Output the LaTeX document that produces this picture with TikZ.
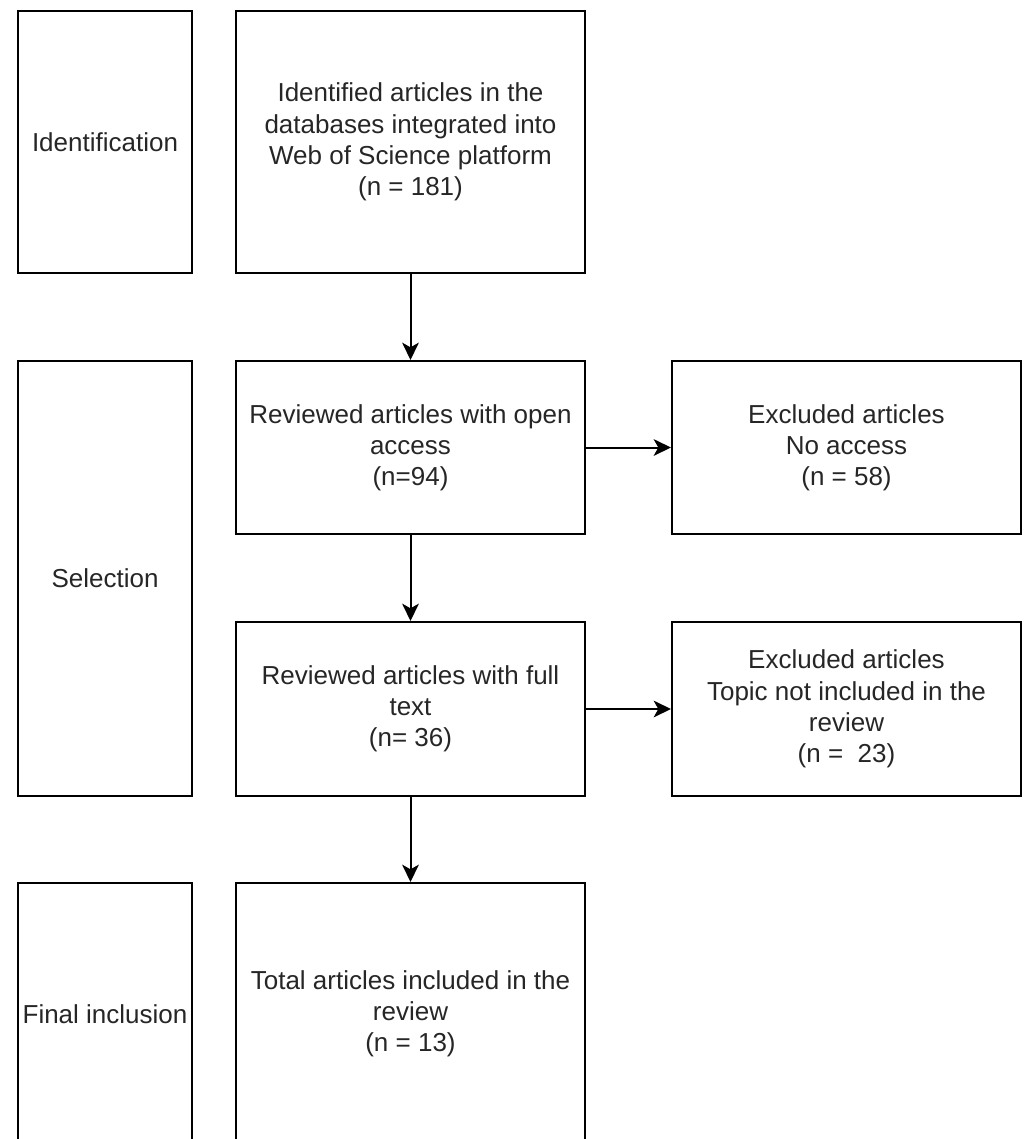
\documentclass[tikz,border=0pt]{standalone}
\usepackage{fontspec}
\setmainfont{Liberation Sans}
\usetikzlibrary{arrows.meta}
\begin{document}
\begin{tikzpicture}[
            x=0.75pt, y=-0.75pt,
            stage/.style={draw, line width=1.5pt, anchor=north west, inner sep=2pt, align=center,
                text=black!85, font=\fontsize{19.5}{23.4}\selectfont},
            narrow/.style={stage, minimum width=130.5pt},
            wide/.style={stage, minimum width=261.75pt},
            flow/.style={-{Stealth[length=13pt,width=12.5pt,inset=3.5pt]}, line width=1.5pt}
        ]
        \clip (0,0) rectangle (1024,1139);
        \node[narrow, minimum height=196.5pt] (ident) at (17,10) {Identification};
        \node[wide, minimum height=196.5pt] (idart) at (235,10)
            {Identified articles in the\\databases integrated into\\Web of Science platform\\(n = 181)};
        \node[narrow, minimum height=326.25pt] (sel) at (17,360) {Selection};
        \node[wide, minimum height=129.75pt] (openacc) at (235,360)
            {Reviewed articles with open\\access\\(n=94)};
        \node[wide, minimum height=129.75pt] (noacc) at (671,360)
            {Excluded articles\\No access\\(n = 58)};
        \node[wide, minimum height=130.5pt] (fulltxt) at (235,621)
            {Reviewed articles with full\\text\\(n= 36)};
        \node[wide, minimum height=130.5pt] (topic) at (671,621)
            {Excluded articles\\Topic not included in the\\review\\(n =\ \ 23)};
        \node[narrow, minimum height=196.5pt] (fin) at (17,882) {Final inclusion};
        \node[wide, minimum height=196.5pt] (total) at (235,882)
            {Total articles included in the\\review\\(n = 13)};
        \draw[flow] (idart) -- (openacc);
        \draw[flow] (openacc) -- (noacc);
        \draw[flow] (openacc) -- (fulltxt);
        \draw[flow] (fulltxt) -- (topic);
        \draw[flow] (fulltxt) -- (total);
    \end{tikzpicture}
\end{document}
